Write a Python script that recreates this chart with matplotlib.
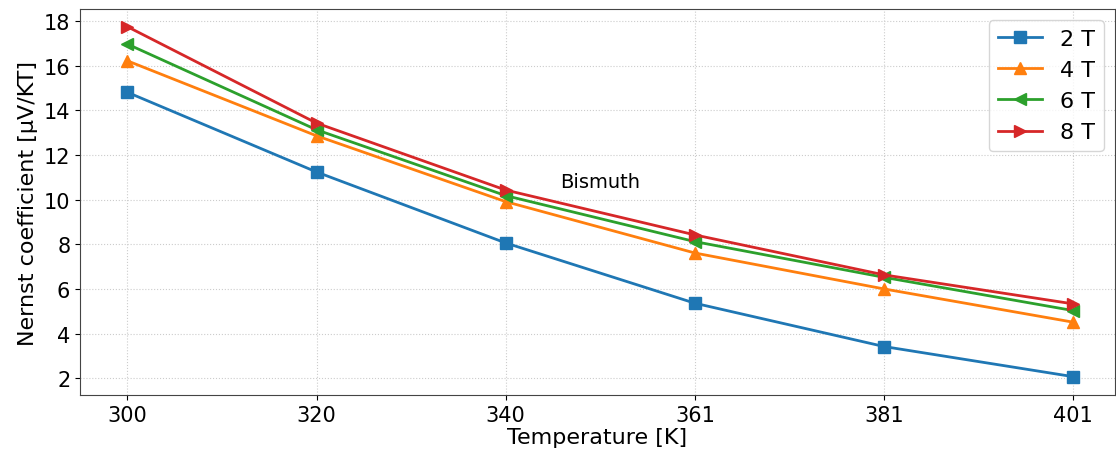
import matplotlib
matplotlib.use("Agg")
import matplotlib.pyplot as plt

temperatures = ["300", "320", "340", "361", "381", "401"]
field_labels = ["2 T", "4 T", "6 T", "8 T"]
nernst_2T = [14.81, 11.24, 8.06, 5.36, 3.42, 2.07]
nernst_4T = [16.22, 12.86, 9.91, 7.61, 6.00, 4.51]
nernst_6T = [16.97, 13.13, 10.18, 8.12, 6.52, 5.03]
nernst_8T = [17.75, 13.43, 10.43, 8.42, 6.63, 5.33]
y_ticks = [2, 4, 6, 8, 10, 12, 14, 16, 18]

series = [nernst_2T, nernst_4T, nernst_6T, nernst_8T]
markers = ["s", "^", "<", ">"]
colors = ["#1f77b4", "#ff7f0e", "#2ca02c", "#d62728"]

fig = plt.figure(figsize=(11.16, 4.56), dpi=100)
ax = fig.add_axes([80 / 1116, 1 - 396 / 456, (1115 - 80) / 1116, (396 - 10) / 456])

x = list(range(len(temperatures)))
for vals, lab, m, c in zip(series, field_labels, markers, colors):
    ax.plot(x, vals, marker=m, color=c, label=lab, linewidth=2, markersize=8)

ax.set_xticks(x)
ax.set_xticklabels(temperatures)
ax.set_yticks(y_ticks)
ax.set_xlim(-0.25, 5.22)
ax.set_ylim(1.25, 18.54)
ax.tick_params(labelsize=15)
ax.set_xlabel("Temperature [K]", fontsize=16, labelpad=2)
ax.set_ylabel("Nernst coefficient [µV/KT]", fontsize=16)
ax.grid(True, linestyle=":", linewidth=0.8, color="#cccccc")
for spine in ax.spines.values():
    spine.set_color("#444444")
ax.text(2.5, 10.8, "Bismuth", fontsize=14, ha="center", va="center")
ax.legend(loc="upper right", fontsize=16)

fig.savefig("out.png", dpi=100)
